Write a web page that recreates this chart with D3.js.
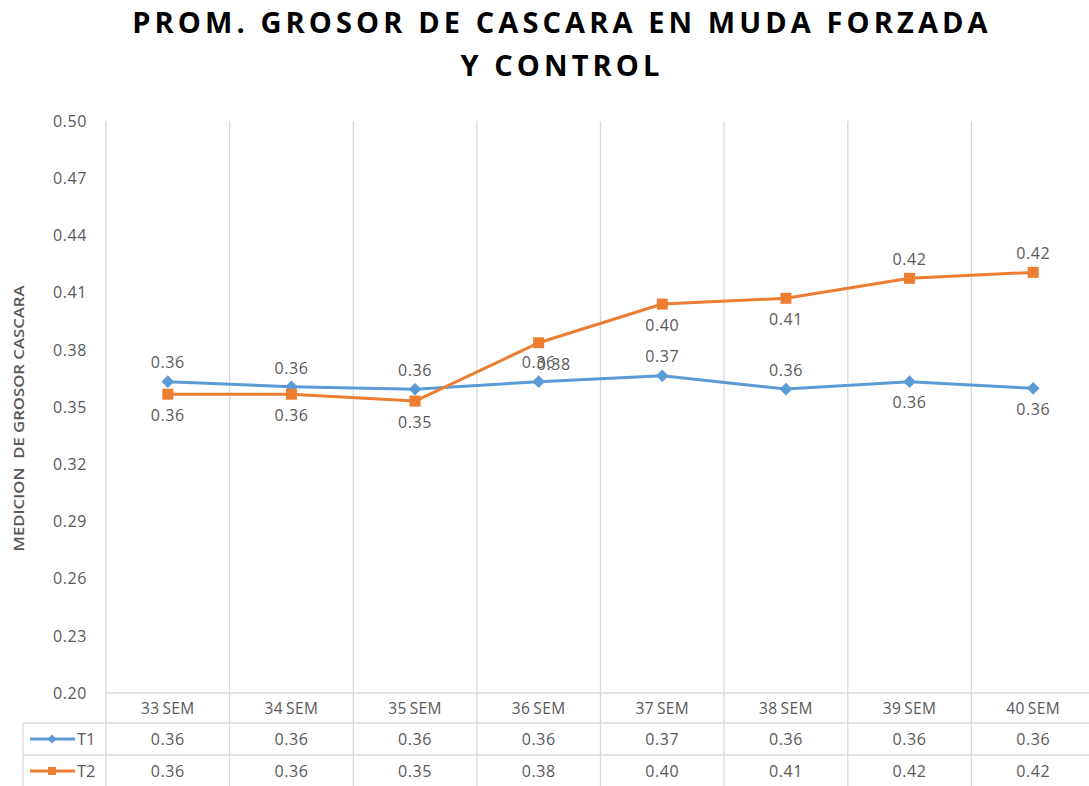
<!DOCTYPE html>
<html>
<head>
<meta charset="utf-8">
<script src="https://cdnjs.cloudflare.com/ajax/libs/d3/7.8.5/d3.min.js"></script>
<style>
    body { margin: 0; background: #fff; }
    svg { display: block; font-family: "Open Sans", sans-serif; }
    .grid line { stroke: #d9d9d9; stroke-width: 1.3; }
    .txt { fill: #595959; }
</style>
</head>
<body>
<svg id="chart" width="1089" height="786"></svg>
<script>
// datos
const categories = ['33 SEM', '34 SEM', '35 SEM', '36 SEM', '37 SEM', '38 SEM', '39 SEM', '40 SEM'];
const t1Values = [0.3633, 0.3606, 0.3593, 0.3633, 0.3664, 0.3594, 0.3633, 0.3598];
const t2Values = [0.3567, 0.3567, 0.3531, 0.3837, 0.4040, 0.4070, 0.4175, 0.4206];
const seriesNames = ['T1', 'T2'];
const yTicks = [0.20, 0.23, 0.26, 0.29, 0.32, 0.35, 0.38, 0.41, 0.44, 0.47, 0.50];
const titleLines = ['PROM. GROSOR DE CASCARA EN MUDA FORZADA', 'Y CONTROL'];
const yTitle = 'MEDICION  DE GROSOR CASCARA';

// donde va cada etiqueta de dato (arriba / abajo)
const t1LabelSide = ['up', 'up', 'up', 'up', 'up', 'up', 'down', 'down'];
const t2LabelSide = ['down', 'down', 'down', 'down', 'down', 'down', 'up', 'up'];

class ShellChart {
    constructor(target) {
        this.svg = d3.select(target);
        this.left = 106;
        this.right = 1095;
        this.top = 121;
        this.bottom = 693;
        this.tableLeft = 23;
        this.rowH = [30, 32, 32];
        this.colors = ['#5b9bd5', '#ed7d31'];
        this.series = [
            {name: seriesNames[0], values: t1Values, side: t1LabelSide, shape: 'diamond', nudge: 0},
            {name: seriesNames[1], values: t2Values, side: t2LabelSide, shape: 'square', nudge: 15}
        ];
    }

    init() {
        this.x = d3.scaleBand().domain(categories).range([this.left, this.right]);
        this.y = d3.scaleLinear().domain([0.20, 0.50]).range([this.bottom, this.top]);

        this.drawTitle();
        this.drawGrid();
        this.drawAxis();
        this.drawTable();
        this.drawSeries();
    }

    /**
     * titulo en dos lineas
     */
    drawTitle() {
        this.svg.append('g').selectAll('text')
            .data(titleLines)
            .enter()
            .append('text')
            .attr('x', 562)
            .attr('y', (d, i) => 33 + i * 43)
            .attr('text-anchor', 'middle')
            .attr('font-size', 29)
            .attr('font-weight', 700)
            .attr('letter-spacing', 4.1)
            .attr('fill', '#000')
            .text(d => d);
    }

    /**
     * lineas verticales que atraviesan tambien la tabla
     */
    drawGrid() {
        const tableBottom = this.bottom + d3.sum(this.rowH);
        const bounds = categories.map(c => this.x(c)).concat([this.right]);
        const grid = this.svg.append('g').classed('grid', true);
        grid.selectAll('line.v')
            .data(bounds)
            .enter()
            .append('line')
            .attr('x1', d => d).attr('x2', d => d)
            .attr('y1', this.top).attr('y2', tableBottom);
        // linea base del eje
        grid.append('line')
            .attr('x1', this.left).attr('x2', this.right)
            .attr('y1', this.bottom).attr('y2', this.bottom);
    }

    drawAxis() {
        const axis = this.svg.append('g');
        axis.selectAll('text')
            .data(yTicks)
            .enter()
            .append('text')
            .classed('txt', true)
            .attr('x', 87)
            .attr('y', d => this.y(d))
            .attr('dy', '0.36em')
            .attr('text-anchor', 'end')
            .attr('font-size', 16)
            .attr('letter-spacing', 0.6)
            .text(d => d3.format('.2f')(d));

        this.svg.append('text')
            .classed('txt', true)
            .attr('transform', `translate(24,${(285 + 552) / 2}) rotate(-90)`)
            .attr('text-anchor', 'middle')
            .attr('font-size', 13.5)
            .attr('font-weight', 600)
            .attr('textLength', 266)
            .attr('lengthAdjust', 'spacingAndGlyphs')
            .style('white-space', 'pre')
            .text(yTitle);
    }

    /**
     * tabla de datos bajo el grafico
     */
    drawTable() {
        const t = this.svg.append('g');
        const y0 = this.bottom;
        const y1 = y0 + this.rowH[0];
        const y2 = y1 + this.rowH[1];
        const y3 = y2 + this.rowH[2];
        const g = t.append('g').classed('grid', true);
        [y1, y2, y3].forEach(yy => {
            g.append('line').attr('x1', this.tableLeft).attr('x2', this.right)
                .attr('y1', yy).attr('y2', yy);
        });
        g.append('line').attr('x1', this.tableLeft).attr('x2', this.tableLeft)
            .attr('y1', y1).attr('y2', y3);

        const half = this.x.bandwidth() / 2;
        t.selectAll('text.cat')
            .data(categories)
            .enter()
            .append('text')
            .classed('txt', true)
            .attr('x', d => this.x(d) + half)
            .attr('y', (y0 + y1) / 2)
            .attr('dy', '0.36em')
            .attr('text-anchor', 'middle')
            .attr('font-size', 15.5)
            .attr('letter-spacing', 0.4)
            .text(d => d.replace(' ', '\u2009'));

        this.series.forEach((s, k) => {
            const cy = k === 0 ? (y1 + y2) / 2 : (y2 + y3) / 2;
            t.selectAll('text.v' + k)
                .data(s.values)
                .enter()
                .append('text')
                .classed('txt', true)
                .attr('x', (d, i) => this.x(categories[i]) + half)
                .attr('y', cy)
                .attr('dy', '0.36em')
                .attr('text-anchor', 'middle')
                .attr('font-size', 16)
                .attr('letter-spacing', 0.6)
                .text(d => d3.format('.2f')(d));
            // clave de leyenda
            t.append('line')
                .attr('x1', 30).attr('x2', 75)
                .attr('y1', cy).attr('y2', cy)
                .attr('stroke', this.colors[k])
                .attr('stroke-width', 3);
            t.append('path')
                .attr('d', this.marker(s.shape, 8))
                .attr('transform', `translate(52,${cy})`)
                .attr('fill', this.colors[k]);
            t.append('text')
                .attr('x', 77)
                .attr('y', cy)
                .attr('dy', '0.36em')
                .attr('font-size', 16.5)
                .attr('fill', '#595959')
                .text(s.name);
        });
    }

    marker(shape, s) {
        const h = s / 2;
        if (shape === 'diamond') {
            return `M0,${-h * 1.15}L${h * 1.15},0L0,${h * 1.15}L${-h * 1.15},0Z`;
        }
        return `M${-h},${-h}H${h}V${h}H${-h}Z`;
    }

    drawSeries() {
        const half = this.x.bandwidth() / 2;
        const line = d3.line()
            .x((d, i) => this.x(categories[i]) + half)
            .y(d => this.y(d));
        const areas = this.svg.append('g');

        this.series.forEach((s, k) => {
            const g = areas.append('g');
            g.append('path')
                .attr('d', line(s.values))
                .attr('fill', 'none')
                .attr('stroke', this.colors[k])
                .attr('stroke-width', 3)
                .attr('stroke-linejoin', 'round');
            g.selectAll('path.pt')
                .data(s.values)
                .enter()
                .append('path')
                .attr('d', this.marker(s.shape, 11))
                .attr('transform', (d, i) => `translate(${this.x(categories[i]) + half},${this.y(d)})`)
                .attr('fill', this.colors[k]);
        });

        // etiquetas de datos
        this.series.forEach(s => {
            areas.append('g').selectAll('text')
                .data(s.values)
                .enter()
                .append('text')
                .classed('txt', true)
                .attr('x', (d, i) => this.x(categories[i]) + half + (i === 3 ? s.nudge : 0))
                .attr('y', (d, i) => this.y(d) + (s.side[i] === 'up' ? -19 : 21))
                .attr('dy', '0.36em')
                .attr('text-anchor', 'middle')
                .attr('font-size', 16)
                .attr('letter-spacing', 0.6)
                .text(d => d3.format('.2f')(d));
        });
    }
}

new ShellChart('#chart').init();
</script>
</body>
</html>
